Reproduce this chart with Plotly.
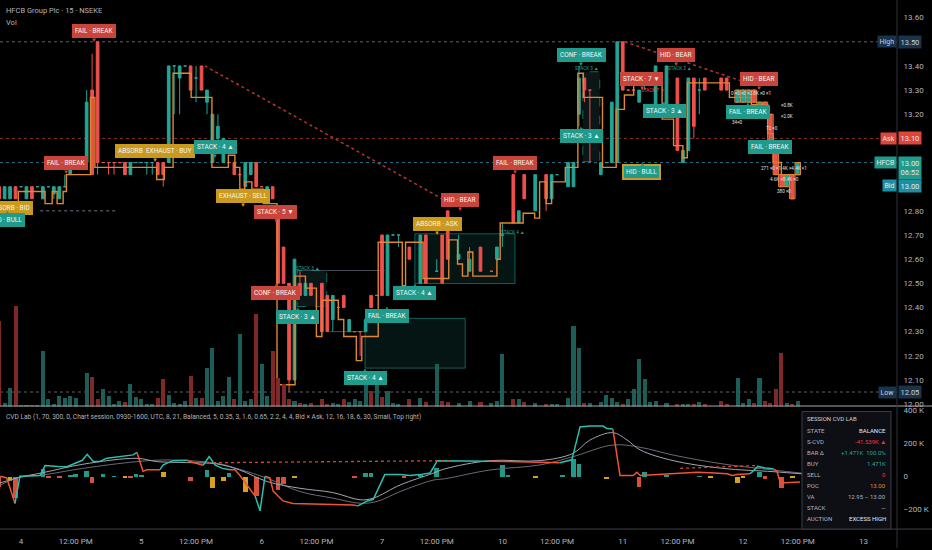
import plotly.graph_objects as go

# ---------------- data ----------------
# 15-minute bars, index 0 = first bar of the "4" session (22 bars per session)
bar_idx = [-4, -3, -2, -1, 0, 1, 2, 3, 4, 5, 6, 7, 8, 9, 10,
           12, 13, 14, 15, 16, 17, 18, 19, 20, 21, 22, 23, 24, 25, 26,
           27, 28, 29, 30, 31, 32, 33, 34, 35, 36, 37, 38, 39, 40, 41,
           42, 43, 44, 45, 46, 47, 48, 49, 50, 51, 52, 53,
           55, 56, 57, 58, 59, 60, 61, 62, 63, 64, 65, 66, 67, 68, 69,
           71, 73, 74, 76, 77, 78, 80, 82, 84, 86, 87, 88, 90, 91, 92, 94, 96, 97, 98,
           100, 101, 102, 103, 104,
           106, 107, 108, 109, 110, 111, 112, 113, 114, 115, 116,
           118, 120, 121, 122, 123, 124, 125,
           128, 129,
           131, 132, 133, 134, 135, 136, 137, 138, 139, 140, 141, 142]

opens = [12.90, 12.85, 12.85, 12.90, 12.90, 12.85, 12.90, 12.90, 12.85, 12.90, 12.87, 12.85, 12.90, 12.95, 13.00,
         13.00, 13.30, 13.50, 13.00, 13.00, 13.00, 13.00, 13.00, 12.95, 13.00, 13.00, 13.00, 13.00, 13.00, 13.00,
         13.00, 13.40, 13.35, 13.40, 13.40, 13.35, 13.40, 13.25, 13.00, 13.10, 13.00, 13.00, 13.00, 12.95, 12.90,
         12.95, 13.00, 12.90, 12.85, 12.90, 12.80, 12.65, 12.50, 12.10, 12.50, 12.45, 12.50,
         12.50, 12.45, 12.35, 12.40, 12.45, 12.30, 12.30, 12.30, 12.30, 12.45, 12.45, 12.70, 12.45, 12.70, 12.70,
         12.65, 12.50, 12.70, 12.55, 12.70, 12.80, 12.60, 12.55, 12.65, 12.55, 12.60, 12.70, 12.95, 12.75, 12.95, 12.80, 12.95, 12.85, 12.95,
         12.90, 12.90, 13.20, 13.35, 13.30,
         12.95, 13.00, 13.00, 13.00, 13.50, 13.30, 13.30, 13.25, 13.35, 13.35, 13.20,
         13.20, 13.35, 13.00, 13.05, 13.35, 13.30, 13.35,
         13.35, 13.35,
         13.25, 13.25, 13.25, 13.30, 13.20, 13.25, 13.20, 13.05, 12.95, 12.90, 12.95, 12.95]

highs = [12.90, 12.90, 12.90, 12.90, 12.90, 12.90, 12.90, 12.90, 12.90, 12.90, 12.90, 12.90, 12.95, 13.00, 13.00,
         13.30, 13.45, 13.50, 13.00, 13.00, 13.00, 13.00, 13.00, 13.00, 13.00, 13.00, 13.00, 13.00, 13.00, 13.00,
         13.40, 13.40, 13.40, 13.40, 13.40, 13.40, 13.40, 13.30, 13.20, 13.20, 13.10, 13.00, 13.00, 12.95, 13.00,
         13.00, 13.00, 12.90, 12.90, 12.90, 12.80, 12.65, 12.50, 12.60, 12.55, 12.50, 12.50,
         12.50, 12.45, 12.45, 12.40, 12.45, 12.35, 12.30, 12.30, 12.35, 12.45, 12.45, 12.70, 12.70, 12.70, 12.70,
         12.65, 12.70, 12.70, 12.60, 12.70, 12.80, 12.70, 12.65, 12.65, 12.55, 12.65, 12.75, 12.95, 12.80, 12.95, 12.95, 12.95, 12.95, 12.95,
         13.00, 13.00, 13.40, 13.35, 13.30,
         13.00, 13.00, 13.25, 13.50, 13.50, 13.30, 13.30, 13.30, 13.35, 13.35, 13.40,
         13.40, 13.35, 13.05, 13.35, 13.35, 13.35, 13.35,
         13.35, 13.35,
         13.30, 13.30, 13.30, 13.30, 13.25, 13.25, 13.20, 13.05, 12.95, 12.95, 12.95, 13.00]

lows = [12.85, 12.85, 12.85, 12.85, 12.90, 12.85, 12.85, 12.90, 12.85, 12.90, 12.85, 12.85, 12.90, 12.95, 13.00,
        13.00, 12.95, 12.95, 13.00, 12.95, 12.95, 13.00, 12.95, 12.95, 13.00, 13.00, 12.95, 12.95, 12.95, 12.90,
        13.00, 13.20, 13.20, 13.40, 13.30, 13.25, 13.30, 13.20, 13.00, 13.05, 13.00, 13.00, 12.95, 12.95, 12.90,
        12.95, 12.90, 12.90, 12.85, 12.85, 12.50, 12.50, 12.05, 12.10, 12.45, 12.45, 12.45,
        12.30, 12.30, 12.30, 12.40, 12.40, 12.30, 12.30, 12.20, 12.30, 12.40, 12.45, 12.45, 12.45, 12.70, 12.65,
        12.60, 12.50, 12.50, 12.55, 12.50, 12.60, 12.60, 12.55, 12.55, 12.55, 12.60, 12.65, 12.75, 12.75, 12.85, 12.80, 12.80, 12.85, 12.95,
        12.90, 12.90, 13.15, 13.25, 13.00,
        12.95, 13.00, 13.00, 13.00, 13.30, 13.30, 13.30, 13.25, 13.30, 13.35, 13.20,
        13.20, 13.05, 13.00, 13.05, 13.10, 13.20, 13.30,
        13.30, 13.30,
        13.25, 13.25, 13.25, 13.25, 13.20, 13.20, 13.05, 12.95, 12.90, 12.90, 12.85, 12.95]

closes = [12.85, 12.90, 12.90, 12.85, 12.90, 12.90, 12.85, 12.90, 12.90, 12.90, 12.90, 12.90, 12.90, 13.00, 13.00,
          13.25, 12.95, 13.00, 13.00, 13.00, 13.00, 13.00, 12.95, 13.00, 13.00, 13.00, 13.00, 13.00, 12.95, 12.95,
          13.40, 13.40, 13.40, 13.40, 13.30, 13.35, 13.30, 13.30, 13.20, 13.15, 13.10, 13.00, 12.95, 12.95, 13.00,
          13.00, 12.90, 12.90, 12.90, 12.85, 12.50, 12.50, 12.10, 12.60, 12.45, 12.50, 12.45,
          12.30, 12.30, 12.45, 12.40, 12.40, 12.35, 12.30, 12.30, 12.35, 12.40, 12.45, 12.45, 12.70, 12.70, 12.70,
          12.60, 12.70, 12.50, 12.55, 12.50, 12.60, 12.62, 12.60, 12.55, 12.55, 12.65, 12.70, 12.75, 12.80, 12.85, 12.95, 12.85, 12.95, 12.95,
          13.00, 13.00, 13.35, 13.30, 13.30,
          13.00, 13.00, 13.25, 13.50, 13.30, 13.30, 13.30, 13.30, 13.35, 13.35, 13.40,
          13.40, 13.05, 13.05, 13.35, 13.15, 13.30, 13.30,
          13.30, 13.30,
          13.30, 13.30, 13.30, 13.25, 13.25, 13.20, 13.05, 12.95, 12.90, 12.95, 12.85, 13.00]

volumes_k = [86, 4, 19, 101, 2, 2, 2, 2, 56, 8, 3, 11, 9, 11, 9,
             34, 30, 8, 18, 11, 3, 6, 5, 23, 10, 8, 3, 3, 9, 28,
             12, 4, 3, 6, 31, 9, 9, 39, 59, 6, 11, 30, 8, 73, 6,
             8, 93, 43, 11, 56, 29, 23, 8, 6, 4, 3, 4,
             8, 3, 4, 3, 8, 5, 8, 6, 36, 16, 29, 10, 16, 4, 3,
             8, 9, 5, 43, 6, 5, 4, 6, 5, 4, 6, 53, 8, 8, 5, 4, 3, 3, 3,
             9, 81, 59, 4, 4,
             5, 12, 9, 5, 3, 8, 18, 48, 28, 5, 6,
             4, 3, 3, 3, 3, 5, 3,
             6, 3,
             29, 4, 8, 4, 29, 6, 4, 18, 54, 4, 3, 6]

assert len(bar_idx) == len(opens) == len(highs) == len(lows) == len(closes) == len(volumes_k)

# orange step line (session POC track): start bar of each step, level
poc_bars = [-3.8, -0.5, 4.4, 5.7, 6.6, 7.7, 8.3, 12.7, 13.5, 24.8, 26.2, 27.8, 31.1, 34.9, 37.9, 39.1,
            40.0, 40.9, 42.2, 44.3, 46.8, 50.1, 52.0, 54.0, 55.0, 58.0, 59.0, 61.3, 62.3, 65.3, 69.7,
            70.3, 73.5, 78.2, 79.8, 80.7, 81.7, 82.6, 87.0, 87.6, 91.8, 93.9, 94.8, 96.0, 97.0, 99.5,
            101.8, 102.8, 106.3, 108.8, 110.3, 112.0, 117.2, 119.3, 121.0, 121.8, 129.5, 133.5, 136.5,
            137.5, 139.0, 142.5]
poc_levels = [12.83, 12.88, 12.83, 12.88, 12.83, 12.88, 12.95, 13.27, 12.98, 12.93, 12.98, 13.37, 13.27, 12.98, 13.03, 12.98,
              12.89, 12.92, 12.89, 12.83, 12.08, 12.53, 12.48, 12.28, 12.43, 12.35, 12.28, 12.18, 12.28, 12.67, 12.49,
              12.67, 12.52, 12.68, 12.58, 12.53, 12.63, 12.53, 12.60, 12.75, 12.79, 12.77, 12.92, 12.83, 12.92, 12.98,
              13.37, 13.27, 12.98, 13.22, 13.28, 13.37, 13.18, 13.07, 13.02, 13.33, 13.27, 13.24, 13.12,
              13.00, 12.95, 12.95]

ask_price = 13.10
bid_price = 13.00
symbol = "HFCB"
countdown = "06:52"

# x-axis ticks
tick_bars = [0, 10, 22, 32, 44, 54, 66, 76, 88, 98, 110, 120, 132, 142, 154]
tick_text = ["4", "12:00 PM", "5", "12:00 PM", "6", "12:00 PM", "7", "12:00 PM",
             "10", "12:00 PM", "11", "12:00 PM", "12", "12:00 PM", "13"]
price_ticks = [12.0, 12.1, 12.2, 12.3, 12.4, 12.5, 12.6, 12.7, 12.8, 12.9, 13.0, 13.1, 13.2, 13.3, 13.4, 13.5, 13.6]

# CVD line (thousands) and segment direction
cvd_bars = [-3.8, -2.6, -1.1, -0.2, 3.5, 4.4, 6.8, 8.4, 11.2, 12.1, 13.2, 14.4, 15.7, 17.7, 20.5, 21.2,
            22.3, 23.0, 25.4, 26.0, 27.8, 30.4, 30.9, 33.3, 34.4, 35.5, 36.8, 38.2, 39.1, 40.0, 42.8,
            43.7, 44.6, 45.5, 46.1, 47.9, 49.7, 57.0, 60.7, 61.6, 63.3, 64.4, 65.1, 66.5, 69.3, 71.1,
            72.9, 74.8, 76.1, 78.4, 85.7, 87.6, 91.8, 98.5, 99.8, 100.7, 102.2, 104.0, 106.4, 107.1,
            108.2, 109.5, 111.9, 112.6, 113.2, 115.5, 119.2, 123.6, 126.0, 129.1, 130.0, 130.9, 133.3,
            134.7, 136.0, 137.5, 138.2, 138.8, 139.7, 142.4]
cvd_vals = [0, -10, -165, 0, 5, 65, 60, 58, 97, 133, 90, 90, 110, 120, 130, 145,
            30, 40, 40, 70, 95, 97, 90, 67, 120, 67, 48, 40, 40, 6, -120,
            -210, 0, -10, -90, -150, -165, -170, -175, -180, -150, -140, -90, 10, 10, 5,
            10, 20, 95, 95, 92, 90, 85, 82, 90, 100, 300, 305, 305, 290,
            287, 5, 5, 25, 5, 10, 15, 25, 22, 15, 5, 10, 15,
            60, 50, 45, 30, -40, -40, -35]
cvd_dir = ["dn", "dn", "dn", "up", "up", "up", "up", "up", "up", "up", "up", "up", "up", "up", "up", "up",
           "dn", "dn", "dn", "up", "up", "up", "dn", "dn", "up", "up", "up", "up", "dn", "dn", "dn",
           "up", "up", "dn", "dn", "dn", "dn", "dn", "dn", "dn", "up", "up", "up", "up", "up", "up",
           "up", "up", "up", "up", "up", "dn", "dn", "dn", "up", "up", "up", "up", "up", "up",
           "up", "dn", "dn", "dn", "dn", "dn", "dn", "dn", "dn", "dn", "dn", "dn", "dn",
           "up", "up", "up", "dn", "dn", "dn", "dn"]

ma_fast_bars = [-3.8, -0.2, 4.0, 11.3, 21.2, 24.9, 30.3, 35.8, 40.0, 45.0, 51.0, 57.0, 62.0, 64.4, 69.3,
                75.3, 77.5, 85.7, 94.9, 100.9, 104.0, 108.2, 110.8, 113.2, 119.2, 128.3, 137.5, 143.0]
ma_fast_vals = [-40, -6, 22, 73, 109, 89, 83, 75, 38, -32, -73, -99, -143, -133, -53,
                18, 45, 95, 95, 139, 220, 265, 220, 160, 95, 48, 28, 14]
ma_slow_bars = [-3.8, -0.2, 4.0, 11.3, 21.2, 26.7, 35.8, 40.0, 45.0, 51.0, 57.0, 62.0, 65.1, 69.3, 75.3,
                77.5, 85.7, 94.9, 100.9, 108.2, 113.2, 119.2, 128.3, 137.5, 143.0]
ma_slow_vals = [-53, -6, 8, 48, 89, 99, 79, 42, -12, -93, -133, -164, -153, -93, -24,
                -15, 38, 69, 119, 190, 176, 129, 75, 38, 18]

# bar delta histogram (thousands): up / dn / abs(orption)
hist_bars = [-4, -2, -1, 4, 5, 7, 9, 10, 12, 13, 15, 17, 19, 20, 21, 22, 26, 31, 34, 35, 37, 38, 41, 43,
             47, 48, 50, 61, 63, 64, 70, 73, 76, 88, 89, 94, 99, 101, 102, 107, 113, 114, 118, 124,
             126, 131, 132, 135, 136, 139, 141]
hist_vals = [-60, -25, -130, 50, -5, -5, 12, 14, 35, -40, 18, 3, -5, -6, 15, 12, 30, -25, 40, -70, -25, 25, -95, -120,
             -80, -45, -6, -5, 20, 25, -5, 5, 55, 70, 10, -5, 12, 110, 75, -15, -65, 30, 5, 4,
             -5, -35, -5, 30, -12, -70, -6]
hist_kind = ["dn", "abs", "dn", "up", "dn", "dn", "up", "up", "up", "dn", "up", "up", "abs", "dn", "up", "up", "abs", "dn", "up", "abs", "abs", "up", "abs", "dn",
             "dn", "dn", "abs", "dn", "up", "up", "dn", "up", "up", "up", "up", "abs", "up", "up", "up", "abs", "dn", "up", "up", "up",
             "abs", "abs", "abs", "up", "dn", "dn", "abs"]

# signal labels: bar, price anchor, text, kind, pointer direction
lab_bar = [13.35, 8.2, -2.0, -2.6, 24.5, 35.5, 40.6, 46.6, 46.6, 50.6, 66.9, 62.9, 72.0, 76.1, 80.3,
           90.3, 102.4, 102.4, 113.5, 119.7, 113.5, 117.6, 134.9, 132.9, 136.9]
lab_price = [13.545, 12.998, 12.812, 12.763, 13.047, 13.063, 12.862, 12.796, 12.462, 12.359, 12.363, 12.108,
             12.462, 12.746, 12.845, 12.998, 13.446, 13.109, 13.348, 13.446, 12.960, 13.212, 13.348, 13.208, 13.063]
lab_text = ["FAIL · BREAK", "FAIL · BREAK", "ABSORB · BID", "HID · BULL", "ABSORB  EXHAUST · BUY",
            "STACK · 4 ▲", "EXHAUST · SELL", "STACK · 5 ▼", "CONF · BREAK", "STACK · 3 ▲", "FAIL · BREAK",
            "STACK · 4 ▲", "STACK · 4 ▲", "ABSORB · ASK", "HID · BEAR", "FAIL · BREAK", "CONF · BREAK",
            "STACK · 3 ▲", "STACK · 7 ▼", "HID · BEAR", "HID · BULL", "STACK · 3 ▲", "HID · BEAR",
            "FAIL · BREAK", "FAIL · BREAK"]
lab_kind = ["bear", "bear", "abs", "bull", "abs", "bull", "abs", "bear", "bear", "bull", "bull", "bull", "bull",
            "abs", "bear", "bear", "bull", "bull", "bear", "bear", "bullg", "bull", "bear", "bull", "bull"]
lab_ptr = ["dn", "dn", "dn", "up", "dn", "dn", "dn", "dn", "up", "up", "up", "up", "up", "dn", "dn",
           "dn", "dn", "up", "dn", "dn", "up", "up", "dn", "up", "up"]

# zones (bar0, bar1, price0, price1, style)
zone_b0 = [62.9, 72.0, 50.5, 102.7]
zone_b1 = [81.2, 90.3, 55.9, 105.8]
zone_p0 = [12.149, 12.499, 12.404, 13.004]
zone_p1 = [12.355, 12.705, 12.553, 13.376]
zone_style = ["solid", "solid", "dash", "dash"]

# divergence dotted lines (bar0, price0, bar1, price1)
div_lines = [(33.6, 13.40, 77.0, 12.85), (110.4, 13.50, 131.4, 13.34)]
cvd_div_lines = [(34.0, 82, 78.4, 95), (120.5, 48, 134.2, 65)]

# session table
table_rows = [("STATE", "BALANCE", "#e8e8e8"), ("S-CVD", "-41.539K ▲", "#f23645"),
              ("BAR Δ", "+1.471K  100.0%", "#26a69a"), ("BUY", "1.471K", "#26a69a"),
              ("SELL", "0", "#f23645"), ("POC", "13.00", "#e08a2e"), ("VA", "12.95 – 13.00", "#b2b5be"),
              ("STACK", "—", "#b2b5be"), ("AUCTION", "EXCESS HIGH", "#e8e8e8"), ("POSIT.", "—", "#b2b5be")]

# ---------------- style ----------------
W, H = 932, 550
PLOT_R = 897
MAIN_BOTTOM = 408
CVD_BOTTOM = 531
X0, X1 = -3.84, 160.14
P_LO, P_HI = 11.990, 13.673
C_LO, C_HI = -321, 424
FONT = "Roboto, Liberation Sans, sans-serif"
TXT = "#b2b5be"
TEAL = "#22a595"
RED = "#f0504c"
VOL_UP = "#1c5e57"
VOL_DN = "#7e2828"
ORANGE = "#df8733"
GOLD = "#c99a1d"
LAB_COL = {"bear": "#c9443a", "bull": "#1f9a8b", "abs": GOLD, "bullg": "#1f9a8b"}
CVD_UP = "#2cbfae"
CVD_DN = "#ee5535"
HIST_COL = {"up": "#1f9a8b", "dn": "#d8503c", "abs": "#d6a219"}


def px(x):
    return x / W


def py(y):
    return 1 - y / H


fig = go.Figure()

# volume
vol_colors = [VOL_UP if c >= o else VOL_DN for o, c in zip(opens, closes)]
fig.add_trace(go.Bar(x=bar_idx, y=volumes_k, marker=dict(color=vol_colors, line=dict(width=0)),
                     width=0.74, xaxis="x", yaxis="y2", hoverinfo="skip"))

# candles
fig.add_trace(go.Candlestick(x=bar_idx, open=opens, high=highs, low=lows, close=closes,
                             increasing=dict(line=dict(color=TEAL, width=1), fillcolor=TEAL),
                             decreasing=dict(line=dict(color=RED, width=1), fillcolor=RED),
                             whiskerwidth=0, xaxis="x", yaxis="y", hoverinfo="skip"))

# POC step line
fig.add_trace(go.Scatter(x=poc_bars, y=poc_levels, mode="lines", xaxis="x", yaxis="y",
                         line=dict(color=ORANGE, width=1.4, shape="hv"), hoverinfo="skip"))

# CVD gray averages
fig.add_trace(go.Scatter(x=ma_slow_bars, y=ma_slow_vals, mode="lines", xaxis="x", yaxis="y3",
                         line=dict(color="#686b75", width=1, shape="spline"), hoverinfo="skip"))
fig.add_trace(go.Scatter(x=ma_fast_bars, y=ma_fast_vals, mode="lines", xaxis="x", yaxis="y3",
                         line=dict(color="#a3a6ae", width=1, shape="spline"), hoverinfo="skip"))

# CVD histogram
fig.add_trace(go.Bar(x=hist_bars, y=hist_vals, marker=dict(color=[HIST_COL[k] for k in hist_kind], line=dict(width=0)),
                     width=0.85, xaxis="x", yaxis="y3", hoverinfo="skip"))

# CVD line split in coloured runs
i = 1
while i < len(cvd_bars):
    j = i
    while j + 1 < len(cvd_bars) and cvd_dir[j + 1] == cvd_dir[i]:
        j += 1
    col = CVD_UP if cvd_dir[i] == "up" else CVD_DN
    fig.add_trace(go.Scatter(x=cvd_bars[i - 1:j + 1], y=cvd_vals[i - 1:j + 1], mode="lines", xaxis="x", yaxis="y3",
                             line=dict(color=col, width=1.5), hoverinfo="skip"))
    i = j + 1

for (b0, v0, b1, v1) in cvd_div_lines:
    fig.add_trace(go.Scatter(x=[b0, b1], y=[v0, v1], mode="lines", xaxis="x", yaxis="y3",
                             line=dict(color="#d2473a", width=1.3, dash="dot"), hoverinfo="skip"))

shapes = []
ann = []

# horizontal reference lines
hi_p, lo_p, last_p = max(highs), min(lows), closes[-1]
for yv, col in [(hi_p, "#5d606b"), (ask_price, "#8c2f2b"), (last_p, "#2a6f86"), (lo_p, "#5d606b")]:
    shapes.append(dict(type="line", xref="x", yref="y", x0=X0, x1=X1, y0=yv, y1=yv,
                       line=dict(color=col, width=1, dash="dot"), layer="below"))
shapes.append(dict(type="line", xref="x", yref="y", x0=3.5, x1=17.7, y0=12.80, y1=12.80,
                   line=dict(color="#4a4d57", width=1.5, dash="dot"), layer="below"))
shapes.append(dict(type="line", xref="x", yref="y", x0=50.5, x1=66.5, y0=12.553, y1=12.553,
                   line=dict(color="#4a4d57", width=1), layer="below"))
shapes.append(dict(type="line", xref="x", yref="y", x0=56.5, x1=62.9, y0=12.30, y1=12.30,
                   line=dict(color="#4a4d57", width=1), layer="below"))

# zones
for b0, b1, p0, p1, st in zip(zone_b0, zone_b1, zone_p0, zone_p1, zone_style):
    if st == "solid":
        shapes.append(dict(type="rect", xref="x", yref="y", x0=b0, x1=b1, y0=p0, y1=p1,
                           fillcolor="rgba(34,165,149,0.13)", line=dict(color="rgba(34,165,149,0.55)", width=1),
                           layer="below"))
    else:
        shapes.append(dict(type="rect", xref="x", yref="y", x0=b0, x1=b1, y0=p0, y1=p1,
                           fillcolor="rgba(20,40,40,0.55)", line=dict(color="rgba(34,165,149,0.6)", width=1, dash="dash"),
                           layer="below"))

# divergence lines
for (b0, p0, b1, p1) in div_lines:
    shapes.append(dict(type="line", xref="x", yref="y", x0=b0, x1=b1, y0=p0, y1=p1,
                       line=dict(color="#b5352e", width=1.5, dash="dot")))

# footprint cells on the latest bars
for b, o, c in zip(bar_idx, opens, closes):
    if b >= 131:
        lo_b, hi_b = min(o, c), max(o, c)
        if hi_b - lo_b < 0.02:
            hi_b = lo_b + 0.03
        fill = "rgba(34,165,149,0.55)" if c >= o else "rgba(240,80,76,0.55)"
        shapes.append(dict(type="rect", xref="x", yref="y", x0=b - 0.5, x1=b + 0.5, y0=lo_b, y1=hi_b,
                           fillcolor=fill, line=dict(color=ORANGE, width=1)))

# pane separators
shapes.append(dict(type="line", xref="paper", yref="paper", x0=0, x1=1, y0=py(MAIN_BOTTOM - 0.5), y1=py(MAIN_BOTTOM - 0.5),
                   line=dict(color="#a6a8ae", width=1)))
shapes.append(dict(type="line", xref="paper", yref="paper", x0=0, x1=1, y0=py(CVD_BOTTOM), y1=py(CVD_BOTTOM),
                   line=dict(color="#3d414b", width=1)))
shapes.append(dict(type="line", xref="paper", yref="paper", x0=px(PLOT_R), x1=px(PLOT_R), y0=0, y1=1,
                   line=dict(color="#2e323c", width=1)))

# signal labels
for b, p, t, k, d in zip(lab_bar, lab_price, lab_text, lab_kind, lab_ptr):
    col = LAB_COL[k]
    border = GOLD if k == "bullg" else col
    ann.append(dict(x=b, y=p, xref="x", yref="y", text=t, showarrow=False,
                    font=dict(family=FONT, size=6.5, color="#f4f4f4"),
                    bgcolor=col, bordercolor=border, borderwidth=2 if k == "bullg" else 1, borderpad=2))
    ann.append(dict(x=b, y=p, xref="x", yref="y", text="▼" if d == "dn" else "▲", showarrow=False,
                    font=dict(size=6, color=col), yshift=-8.5 if d == "dn" else 8.5))

# tiny stack / footprint texts
tiny = [(52.5, 12.56, "STACK 3 ▲", "#26a69a"), (90.0, 12.71, "STACK 4 ▲", "#26a69a"),
        (103.5, 13.39, "STACK 3 ▲", "#26a69a"), (115.5, 13.30, "STACK 7 ▼", "#f0504c"),
        (120.5, 13.39, "STACK 3 ▲", "#26a69a"),
        (133.5, 13.285, "0 ×0 ×0 ×2.8K ×0 ×1", "#e0e0e0"), (140.0, 13.235, "×0.8K", "#e0e0e0"),
        (140.0, 13.19, "×2.0K", "#e0e0e0"), (131.0, 13.165, "34×0", "#e0e0e0"), (137.3, 13.14, "72 ×0", "#e0e0e0"),
        (139.5, 12.975, "271 ×0 ×1.4K ×4.4K ×1", "#e0e0e0"), (139.5, 12.93, "4.6K ×8.4K ×0", "#e0e0e0"),
        (139.5, 12.88, "380 ×0", "#e0e0e0")]
for b, p, t, c in tiny:
    ann.append(dict(x=b, y=p, xref="x", yref="y", text=t, showarrow=False, font=dict(family=FONT, size=4.6, color=c)))

# header texts
ann.append(dict(x=px(4), y=py(11), xref="paper", yref="paper", xanchor="left", yanchor="middle",
                text="HFCB Group Plc · 15 · NSEKE", showarrow=False, font=dict(family=FONT, size=7.5, color=TXT)))
ann.append(dict(x=px(4), y=py(23), xref="paper", yref="paper", xanchor="left", yanchor="middle",
                text="Vol", showarrow=False, font=dict(family=FONT, size=7.5, color=TXT)))
ann.append(dict(x=px(4), y=py(419), xref="paper", yref="paper", xanchor="left", yanchor="middle",
                text="CVD Lab (1, 70, 300, 0, Chart session, 0930-1600, UTC, 8, 21, Balanced, 5, 0.35, 3, 1.6, 0.65, 2.2, 4, 4, Bid × Ask, 12, 16, 18, 6, 30, Small, Top right)",
                showarrow=False, font=dict(family=FONT, size=6.6, color=TXT)))

# right axis badges
def badge(name, value, yv, col, txtcol="#e8e8e8", yshift=0, vh=None):
    ann.append(dict(x=px(PLOT_R), y=yv, xref="paper", yref="y", xanchor="right", yanchor="middle", yshift=yshift,
                    text=name, showarrow=False, font=dict(family=FONT, size=7, color=txtcol),
                    bgcolor=col, borderpad=1.5))
    ann.append(dict(x=px(PLOT_R + 1), y=yv, xref="paper", yref="y", xanchor="left",
                    yanchor="top" if vh else "middle", yshift=yshift + (vh or 0),
                    text=value, showarrow=False, font=dict(family=FONT, size=7.5, color=txtcol),
                    bgcolor=col, borderpad=1.5))

badge("High", f"{hi_p:.2f}", hi_p, "#19334a", "#c8d0da")
badge("Ask", f"{ask_price:.2f}", ask_price, "#e0453c")
badge(symbol, f"{last_p:.2f}<br>{countdown}", last_p, "#1f9a8b", vh=7)
badge("Bid", f"{bid_price:.2f}", bid_price, "#1d8fa3", yshift=-23)
badge("Low", f"{lo_p:.2f}", lo_p, "#19334a", "#c8d0da")

# price tick labels hidden where a badge sits (as the reference scale does)
covered = [hi_p, ask_price, last_p, last_p - 0.1]
shown_ticks = [t for t in price_ticks if all(abs(t - c) > 0.03 for c in covered)]

# session table
T_L, T_R, T_T = 802, 891, 413
shapes.append(dict(type="rect", xref="paper", yref="paper", x0=px(T_L), x1=px(T_R), y0=py(CVD_BOTTOM), y1=py(T_T),
                   fillcolor="#0d0f14", line=dict(color="#3a3e48", width=1)))
ann.append(dict(x=px(T_L + 3), y=py(420), xref="paper", yref="paper", xanchor="left", yanchor="middle",
                text="SESSION CVD LAB", showarrow=False, font=dict(family=FONT, size=6, color="#d1d4dc")))
for k, (lab, val, col) in enumerate(table_rows):
    yy = 432 + k * 11.1
    if yy > CVD_BOTTOM - 3:
        break
    ann.append(dict(x=px(T_L + 3), y=py(yy), xref="paper", yref="paper", xanchor="left", yanchor="middle",
                    text=lab, showarrow=False, font=dict(family=FONT, size=6, color=TXT)))
    ann.append(dict(x=px(T_R - 3), y=py(yy), xref="paper", yref="paper", xanchor="right", yanchor="middle",
                    text=val, showarrow=False, font=dict(family=FONT, size=6, color=col)))

fig.update_layout(
    width=W, height=H, margin=dict(l=0, r=0, t=0, b=0),
    paper_bgcolor="#000000", plot_bgcolor="#000000",
    showlegend=False, bargap=0, barmode="overlay",
    font=dict(family=FONT, color=TXT),
    xaxis=dict(domain=[0, px(PLOT_R)], range=[X0, X1], anchor="y3", tickvals=tick_bars, ticktext=tick_text,
               showgrid=False, zeroline=False, showline=False, ticks="outside", ticklen=4,
               tickcolor="rgba(0,0,0,0)", tickfont=dict(size=8, color=TXT, family=FONT),
               rangeslider=dict(visible=False), fixedrange=True),
    yaxis=dict(domain=[py(MAIN_BOTTOM), 1], range=[P_LO, P_HI], side="right", anchor="x",
               tickvals=shown_ticks, ticktext=[f"{v:.2f}" for v in shown_ticks],
               showgrid=False, zeroline=False, showline=False, ticks="outside", ticklen=4,
               tickcolor="rgba(0,0,0,0)", tickfont=dict(size=8, color=TXT, family=FONT)),
    yaxis2=dict(overlaying="y", anchor="x", range=[0, 408], visible=False),
    yaxis3=dict(domain=[py(CVD_BOTTOM), py(MAIN_BOTTOM)], range=[C_LO, C_HI], side="right", anchor="x",
                tickvals=[-200, 0, 200, 400], ticktext=["−200 K", "0", "200 K", "400 K"],
                showgrid=False, zeroline=False, showline=False, ticks="outside", ticklen=4,
                tickcolor="rgba(0,0,0,0)", tickfont=dict(size=8, color=TXT, family=FONT)),
    shapes=shapes, annotations=ann,
)

fig.write_html("out.html", config={"displayModeBar": False},
               post_script="document.body.style.margin='0';document.body.style.background='#000';")
